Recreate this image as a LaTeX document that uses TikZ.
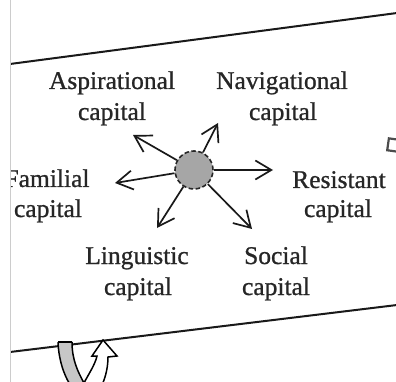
\documentclass[tikz,border=0pt]{standalone}
\usepackage{fontspec}
\setmainfont{Liberation Serif}[BoldFont={Liberation Serif},BoldFeatures={FakeBold=0.9}]
\usetikzlibrary{arrows.meta}
\begin{document}
\begin{tikzpicture}[x=1pt,y=-1pt,
  lab/.style={font=\fontsize{25.5}{31}\selectfont\bfseries, text=black!85, inner sep=0pt, anchor=base},
  caparrow/.style={-{Straight Barb[length=16pt,width=19pt]}, line width=1.7pt, draw=black!90},
  frameline/.style={line width=2pt, draw=black!90},
]
\useasboundingbox (0,0) rectangle (396,382);
\draw[black!20, line width=0.8pt] (10.5,0) -- (10.5,382);
\clip (11,0) rectangle (396,382);
% frame lines
\coordinate (tl) at (10,64);
\coordinate (tr) at (397,13);
\coordinate (bl) at (10,352);
\coordinate (br) at (397,305);
\draw[frameline] (tl) -- (tr);
\draw[frameline] (bl) -- (br);
% small square at right edge
\draw[line width=2.2pt, draw=black!70, rotate around={-8:(393,145)}] (388,139) rectangle (399,151);
% U-turn arrow
\fill[black!22] (58,342) .. controls (59,370) and (72,395) .. (86,398)
  -- (84,383) .. controls (78,372) and (72,360) .. (72,342) -- cycle;
\draw[line width=1.5pt, fill=white] (108,357) -- (117,356) -- (103,340) -- (92,356) -- (97,356)
  .. controls (95,365) and (88,375) .. (84,383) -- (86,398) .. controls (100,398) and (108,375) .. (108,357) -- cycle;
\draw[line width=1.5pt] (72,342) .. controls (72,360) and (78,372) .. (84,383);
\draw[line width=1.5pt] (58,342) -- (72,342);
\draw[line width=1.5pt] (58,342) .. controls (59,370) and (72,395) .. (86,398);
% centre
\node[circle, minimum size=38pt, inner sep=0pt, fill=black!35, draw=black!85,
  dash pattern=on 4.5pt off 2.5pt, line width=1.6pt] (c) at (194,170) {};
% arrow tips
\coordinate (tA) at (133,135);
\coordinate (tN) at (218,123);
\coordinate (tF) at (115,183);
\coordinate (tR) at (273,170);
\coordinate (tL) at (157,228);
\coordinate (tS) at (252,229);
\foreach \t in {tA,tN,tF,tR,tL,tS} \draw[caparrow] (c) -- (\t);
% labels
\node[lab] (asp1) at (112,89) {Aspirational};
\node[lab] (asp2) at (112,120) {capital};
\node[lab] (nav1) at (282,89) {Navigational};
\node[lab] (nav2) at (283,120) {capital};
\node[lab] (fam1) at (47,187) {Familial};
\node[lab] (fam2) at (48,217) {capital};
\node[lab] (res1) at (339,188) {Resistant};
\node[lab] (res2) at (338,217) {capital};
\node[lab] (lin1) at (137,264) {Linguistic};
\node[lab] (lin2) at (138,295) {capital};
\node[lab] (soc1) at (276,264) {Social};
\node[lab] (soc2) at (276,295) {capital};
\end{tikzpicture}
\end{document}
